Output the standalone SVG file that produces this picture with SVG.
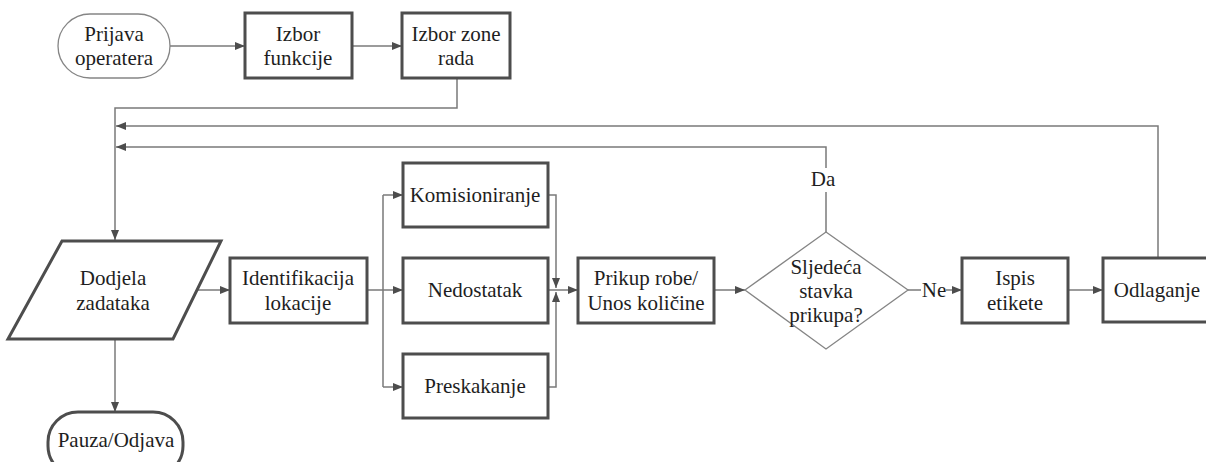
<svg xmlns="http://www.w3.org/2000/svg" width="1206" height="462" viewBox="0 0 1206 462" font-family="'Liberation Serif', 'DejaVu Serif', serif">
<style>
.thick{fill:#fff;stroke:#4d4d4d;stroke-width:3}
.thin{fill:#fff;stroke:#858585;stroke-width:1.3}
.c{fill:none;stroke:#7a7a7a;stroke-width:1.5}
.a{marker-end:url(#arr)}
.t{font-size:21px;fill:#1e1e1e;text-anchor:middle}
</style>
<defs>
<marker id="arr" markerUnits="userSpaceOnUse" markerWidth="10" markerHeight="10" refX="10" refY="4" orient="auto">
<path d="M0,0 L10,4 L0,8 z" fill="#4d4d4d"/>
</marker>
</defs>
<rect width="1206" height="462" fill="#fff"/>
<g id="connectors">
<path class="c a" d="M170,46 H245"/>
<path class="c a" d="M352,46 H402"/>
<path class="c a" d="M457,78 V108 H115 V240"/>
<path class="c a" d="M1158,258 V126 H116"/>
<path class="c" d="M826,232 V192"/>
<path class="c a" d="M826,168 V147 H116"/>
<path class="c a" d="M197,290 H230"/>
<path class="c" d="M367,290 H383 M383,195 V387"/>
<path class="c a" d="M383,195 H403"/>
<path class="c a" d="M383,290 H403"/>
<path class="c a" d="M383,387 H403"/>
<path class="c a" d="M548,195 H556 V288"/>
<path class="c a" d="M548,387 H556 V292"/>
<path class="c a" d="M548,290 H578"/>
<path class="c a" d="M714,290 H745"/>
<path class="c" d="M908,290 H921"/>
<path class="c a" d="M946,290 H962"/>
<path class="c a" d="M1068,290 H1103"/>
<path class="c a" d="M115,339 V412"/>
<text class="t" x="823" y="186">Da</text>
<text class="t" x="934" y="297">Ne</text>
</g>
<g id="prijava">
<rect class="thin" x="58" y="14" width="112" height="64" rx="32"/>
<text class="t" x="114" y="41">Prijava</text>
<text class="t" x="114" y="65">operatera</text>
</g>
<g id="izbor-funkcije">
<rect class="thick" x="245" y="13" width="107" height="65"/>
<text class="t" x="298" y="41">Izbor</text>
<text class="t" x="298" y="65">funkcije</text>
</g>
<g id="izbor-zone">
<rect class="thick" x="402" y="13" width="108" height="65"/>
<text class="t" x="456" y="41">Izbor zone</text>
<text class="t" x="456" y="65">rada</text>
</g>
<g id="dodjela">
<polygon class="thick" points="62,241 221,241 173,339 8,339"/>
<text class="t" x="113" y="285">Dodjela</text>
<text class="t" x="113" y="310">zadataka</text>
</g>
<g id="pauza">
<rect class="thick" x="48" y="412" width="135" height="64" rx="30"/>
<text class="t" x="116" y="447">Pauza/Odjava</text>
</g>
<g id="identifikacija">
<rect class="thick" x="230" y="258" width="137" height="65"/>
<text class="t" x="298" y="285">Identifikacija</text>
<text class="t" x="298" y="310">lokacije</text>
</g>
<g id="komisioniranje">
<rect class="thick" x="403" y="163" width="145" height="64"/>
<text class="t" x="475" y="202">Komisioniranje</text>
</g>
<g id="nedostatak">
<rect class="thick" x="403" y="258" width="145" height="65"/>
<text class="t" x="475" y="297">Nedostatak</text>
</g>
<g id="preskakanje">
<rect class="thick" x="403" y="354" width="145" height="64"/>
<text class="t" x="475" y="393">Preskakanje</text>
</g>
<g id="prikup">
<rect class="thick" x="578" y="258" width="136" height="65"/>
<text class="t" x="646" y="285">Prikup robe/</text>
<text class="t" x="646" y="310">Unos količine</text>
</g>
<g id="sljedeca">
<polygon class="thin" points="826,232 908,290 826,349 745,290"/>
<text class="t" x="826" y="274">Sljedeća</text>
<text class="t" x="826" y="298">stavka</text>
<text class="t" x="826" y="322">prikupa?</text>
</g>
<g id="ispis">
<rect class="thick" x="962" y="258" width="106" height="65"/>
<text class="t" x="1015" y="285">Ispis</text>
<text class="t" x="1015" y="310">etikete</text>
</g>
<g id="odlaganje">
<rect class="thick" x="1103" y="258" width="110" height="64"/>
<text class="t" x="1157" y="297">Odlaganje</text>
</g>
</svg>
